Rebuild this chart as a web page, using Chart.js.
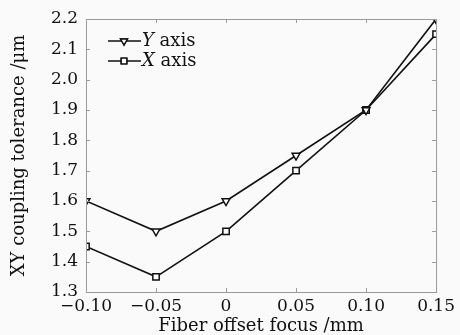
<!DOCTYPE html>
<html>
<head>
<meta charset="utf-8">
<script src="https://cdn.jsdelivr.net/npm/chart.js@4/dist/chart.umd.min.js"></script>
<style>
  html, body { margin: 0; padding: 0; background: #fafafa; }
  #wrap { width: 460px; height: 335px; }
</style>
</head>
<body>
<div id="wrap"><canvas id="chart" width="460" height="335"></canvas></div>
<script>
const offsets = [-0.10, -0.05, 0, 0.05, 0.10, 0.15];
const yAxisTol = [1.6, 1.5, 1.6, 1.75, 1.9, 2.2];
const xAxisTol = [1.45, 1.35, 1.5, 1.7, 1.9, 2.15];
const xTicks = [-0.10, -0.05, 0, 0.05, 0.10, 0.15];
const yTicks = [1.3, 1.4, 1.5, 1.6, 1.7, 1.8, 1.9, 2.0, 2.1, 2.2];

const serif = '"DejaVu Serif", "Liberation Serif", serif';
const frameColor = '#9a9a9a';

function fmtX(v) {
    if (Math.abs(v) < 1e-9) return '0';
    const s = Math.abs(v).toFixed(2);
    return v < 0 ? '\u2212' + s : s;
}

// frame with inward ticks on all four sides
const framePlugin = {
    id: 'frame',
    afterDatasetsDraw(chart) {
        const { ctx, chartArea: a, scales } = chart;
        ctx.save();
        ctx.strokeStyle = frameColor;
        ctx.lineWidth = 1;
        ctx.strokeRect(a.left + 0.5, a.top + 0.5, a.right - a.left, a.bottom - a.top);
        ctx.beginPath();
        xTicks.forEach((t) => {
            const px = Math.round(scales.x.getPixelForValue(t)) + 0.5;
            ctx.moveTo(px, a.bottom); ctx.lineTo(px, a.bottom - 4);
            ctx.moveTo(px, a.top); ctx.lineTo(px, a.top + 4);
        });
        yTicks.forEach((t) => {
            const py = Math.round(scales.y.getPixelForValue(t)) + 0.5;
            ctx.moveTo(a.left, py); ctx.lineTo(a.left + 4, py);
            ctx.moveTo(a.right, py); ctx.lineTo(a.right - 4, py);
        });
        ctx.stroke();
        ctx.restore();
    },
};

// legend with italic axis letter
const legendPlugin = {
    id: 'axisLegend',
    afterDraw(chart) {
        const { ctx } = chart;
        const items = [
            { letter: 'Y', style: 'triangle', rot: 180, y: 41 },
            { letter: 'X', style: 'rect', rot: 0, y: 61 },
        ];
        ctx.save();
        items.forEach((it) => {
            ctx.strokeStyle = '#111';
            ctx.lineWidth = 1.5;
            ctx.beginPath();
            ctx.moveTo(108, it.y); ctx.lineTo(141, it.y);
            ctx.stroke();
            ctx.fillStyle = '#fff';
            ctx.lineWidth = 1.4;
            Chart.helpers.drawPoint(ctx, { pointStyle: it.style, radius: 4, rotation: it.rot, borderWidth: 1.4 }, 124, it.y);
            ctx.fill();
            ctx.stroke();
            ctx.fillStyle = '#111';
            ctx.textBaseline = 'middle';
            ctx.font = 'italic 18px ' + serif;
            ctx.fillText(it.letter, 142, it.y);
            const w = ctx.measureText(it.letter).width;
            ctx.font = '18px ' + serif;
            ctx.fillText(' axis', 142 + w, it.y);
        });
        ctx.restore();
    },
};

function series(label, values, style, rot) {
    return {
        label,
        data: values.map((v, i) => ({ x: offsets[i], y: v })),
        borderColor: '#111',
        borderWidth: 1.6,
        pointStyle: style,
        rotation: rot,
        pointRadius: 4.5,
        pointBorderWidth: 1.5,
        pointBackgroundColor: '#fff',
        pointBorderColor: '#111',
        tension: 0,
    };
}

new Chart(document.getElementById('chart'), {
    type: 'line',
    data: {
        datasets: [
            series('Y axis', yAxisTol, 'triangle', 180),
            series('X axis', xAxisTol, 'rect', 0),
        ],
    },
    options: {
        responsive: false,
        animation: false,
        layout: { padding: { top: 19, right: 22, left: 0, bottom: 0 } },
        plugins: { legend: { display: false }, tooltip: { enabled: false } },
        scales: {
            x: {
                type: 'linear',
                min: -0.10,
                max: 0.15,
                afterBuildTicks(scale) { scale.ticks = xTicks.map((v) => ({ value: v })); },
                afterFit(scale) { scale.height = 43; },
                grid: { display: false, drawTicks: false },
                border: { display: false },
                ticks: {
                    color: '#111',
                    padding: 5,
                    maxRotation: 0,
                    font: { family: serif, size: 17, lineHeight: 1.1 },
                    callback: (v) => fmtX(v),
                },
                title: {
                    display: true,
                    text: 'Fiber offset focus /mm',
                    color: '#111',
                    padding: { top: 0, bottom: 0 },
                    font: { family: serif, size: 18, lineHeight: 1.0 },
                },
            },
            y: {
                min: 1.3,
                max: 2.2,
                afterBuildTicks(scale) { scale.ticks = yTicks.map((v) => ({ value: v })); },
                afterFit(scale) { scale.width = 86; },
                grid: { display: false, drawTicks: false },
                border: { display: false },
                ticks: {
                    color: '#111',
                    padding: 8,
                    font: { family: serif, size: 17 },
                    callback: (v) => v.toFixed(1),
                },
                title: {
                    display: true,
                    text: 'XY coupling tolerance /\u03bcm',
                    color: '#111',
                    padding: { top: 9, bottom: 0 },
                    font: { family: serif, size: 18 },
                },
            },
        },
    },
    plugins: [framePlugin, legendPlugin],
});
</script>
</body>
</html>
